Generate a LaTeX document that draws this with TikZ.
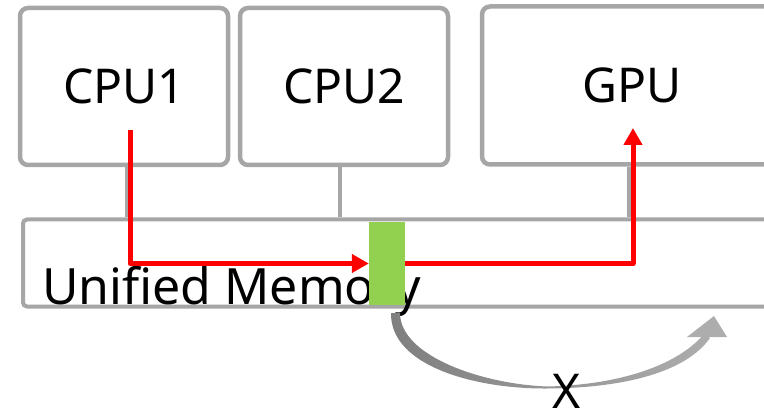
\documentclass[tikz,border=0pt]{standalone}
\usepackage{fontspec}
\setmainfont{Noto Sans}
\usetikzlibrary{arrows.meta}
\definecolor{boxgray}{HTML}{A6A6A6}
\definecolor{flowred}{HTML}{FF0000}
\definecolor{bufgreen}{HTML}{92D050}
\definecolor{arcdark}{HTML}{7F7F7F}
\definecolor{arclight}{HTML}{ADADAD}
\begin{document}
\begin{tikzpicture}[x=1pt,y=-1pt,
  unit/.style={draw=boxgray, line width=4.5pt, rounded corners=8pt, fill=white,
    inner sep=0pt, font=\fontsize{48}{58}\selectfont},
  membox/.style={draw=boxgray, line width=4pt, rounded corners=4pt, fill=white,
    inner sep=0pt, minimum width=767pt, minimum height=87pt},
  link/.style={draw=boxgray, line width=4.5pt},
  flow/.style={draw=flowred, line width=5pt, line join=round,
    -{Triangle[length=17pt, width=18pt]}},
  big/.style={inner sep=0pt, font=\fontsize{48}{58}\selectfont}]
\useasboundingbox (0,0) rectangle (764,409);
\clip (0,0) rectangle (764,409);

% processors
\node[unit, minimum width=208pt, minimum height=157pt] (cpu1) at (124,86.5) {CPU1};
\node[unit, minimum width=208pt, minimum height=157pt] (cpu2) at (344,86.5) {CPU2};
\node[unit, minimum width=300pt, minimum height=158pt] (gpu) at (632,85.5) {GPU};

% shared memory
\node[membox] (mem) at (406.5,263) {};
\node[big, anchor=base west, font=\fontsize{50}{60}\selectfont] (memlabel) at (42,305) {Unified Memory};

% bus links
\draw[link] ([xshift=3pt]cpu1.south) -- ([xshift=3pt]cpu1.south |- mem.north);
\draw[link] ([xshift=-4pt]cpu2.south) -- ([xshift=-4pt]cpu2.south |- mem.north);
\draw[link] ([xshift=-3pt]gpu.south) -- ([xshift=-3pt]gpu.south |- mem.north);

% migrated page
\node[fill=bufgreen, inner sep=0pt, minimum width=36pt, minimum height=83pt] (buf) at (387,263.5) {};

% data path CPU1 -> memory -> GPU
\coordinate (src) at (130,130);
\coordinate (dst) at (633,128);
\draw[flow] (src) |- (buf.west);
\draw[flow] (buf.east) -| (dst);

% tapered curved arrow under the memory
\shade[left color=arcdark, right color=arclight]
  (391,313) .. controls (390,366) and (475,389) .. (547,388.5)
  .. controls (625,388) and (686,372) .. (710,338)
  -- (704,334)
  .. controls (677,366) and (618,385) .. (547,386.5)
  .. controls (482,384) and (400,356) .. (400,313) -- cycle;
\fill[arclight] (687,337) -- (714,316) -- (727,337) -- cycle;
\node[big, anchor=base] (xlabel) at (567,408) {X};
\end{tikzpicture}
\end{document}
